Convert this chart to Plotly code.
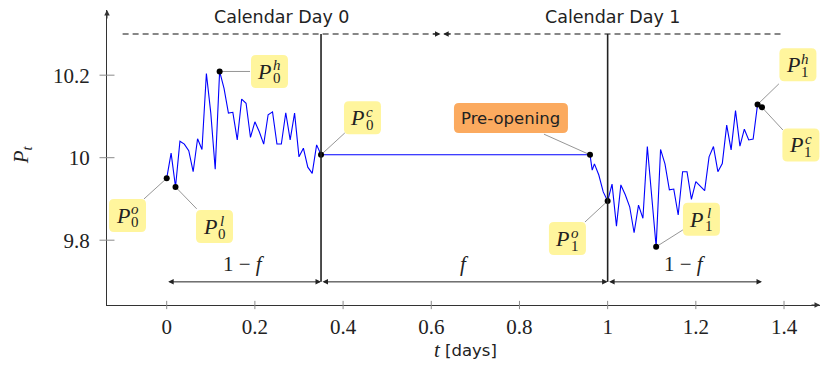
import numpy as np
import plotly.graph_objects as go

# ---- data -------------------------------------------------------------
# Trading day 0: prices sampled every 0.01 day from the open (t=0) to the close
day0_t = np.round(np.linspace(0.0, 0.35, 36), 2)
day0_p = [9.950, 10.011, 9.929, 10.040, 10.033, 10.017, 9.966, 10.046, 10.020,
          10.204, 10.108, 9.972, 10.209, 10.168, 10.108, 10.110, 10.043, 10.142,
          10.132, 10.049, 10.087, 10.063, 10.033, 10.104, 10.111, 10.033, 10.033,
          10.109, 10.043, 10.108, 10.002, 10.023, 9.977, 9.962, 10.031, 10.007]

# Pre-opening auction phase before day 1
pre_t = [0.96, 0.965, 0.97, 0.98, 0.99]
pre_p = [10.007, 9.970, 9.985, 9.958, 9.917]

# Trading day 1: open at t=1 up to the close
day1_t = np.round(np.linspace(1.0, 1.35, 36), 2)
day1_p = [9.895, 9.936, 9.834, 9.934, 9.910, 9.881, 9.818, 9.885, 9.853, 10.027,
          9.902, 9.784, 10.020, 9.985, 9.922, 9.924, 9.861, 9.966, 9.966, 9.899,
          9.942, 9.930, 9.920, 10.002, 10.027, 9.966, 9.986, 10.079, 10.019, 10.114,
          10.028, 10.069, 10.043, 10.045, 10.129, 10.122]

x_ticks = [0, 0.2, 0.4, 0.6, 0.8, 1.0, 1.2, 1.4]
x_tick_text = ["0", "0.2", "0.4", "0.6", "0.8", "1", "1.2", "1.4"]
y_ticks = [9.8, 10.0, 10.2]
y_tick_text = ["9.8", "10", "10.2"]

# session boundaries (fraction f of the day is closed)
close0_t = day0_t[-1]
open1_t = day1_t[0]
day_split = 0.624
cal_left, cal_right = -0.1, 1.4
span_y = 9.699
band_top = 10.30

# ---- styling ----------------------------------------------------------
SERIF = "Liberation Serif"
SANS = "DejaVu Sans"
INK = "#222222"
YELLOW = "#FFF59D"
ORANGE = "#FBAA5F"

X_RANGE = [-0.1354, 1.4816]
Y_RANGE = [9.6429, 10.358]

fig = go.Figure()

# price path
px_all = list(day0_t) + list(pre_t) + list(day1_t)
py_all = list(day0_p) + list(pre_p) + list(day1_p)
fig.add_trace(go.Scatter(x=px_all, y=py_all, mode="lines",
                         line=dict(color="#0000FF", width=1.1),
                         hoverinfo="skip", showlegend=False))

# key points of each session
d0 = np.array(day0_p)
d1 = np.array(day1_p)
keys = {
    "P0o": (day0_t[0], d0[0]),
    "P0l": (day0_t[d0.argmin()], d0.min()),
    "P0h": (day0_t[d0.argmax()], d0.max()),
    "P0c": (day0_t[-1], d0[-1]),
    "pre": (pre_t[0], pre_p[0]),
    "P1o": (day1_t[0], d1[0]),
    "P1l": (day1_t[d1.argmin()], d1.min()),
    "P1h": (day1_t[d1.argmax()], d1.max()),
    "P1c": (day1_t[-1], d1[-1]),
}

# label placement: box centre and connector end, in axis units
label_layout = {
    "P0o": dict(box=(-0.0889, 9.860), tip=(-0.0515, 9.900), sub="0", sup="o"),
    "P0l": dict(box=(0.1084, 9.833), tip=(0.068, 9.876), sub="0", sup="l"),
    "P0h": dict(box=(0.2331, 10.209), tip=(0.189, 10.209), sub="0", sup="h"),
    "P0c": dict(box=(0.4440, 10.097), tip=(0.404, 10.060), sub="0", sup="c"),
    "pre": dict(box=(0.7807, 10.096), tip=(0.8556, 10.057), text="Pre-opening"),
    "P1o": dict(box=(0.9088, 9.804), tip=(0.9485, 9.844), sub="1", sup="o"),
    "P1l": dict(box=(1.2127, 9.851), tip=(1.1707, 9.825), sub="1", sup="l"),
    "P1h": dict(box=(1.4315, 10.225), tip=(1.3884, 10.179), sub="1", sup="h"),
    "P1c": dict(box=(1.4383, 10.031), tip=(1.3976, 10.067), sub="1", sup="c"),
}

# connectors
cx, cy = [], []
for k, lay in label_layout.items():
    px, py = keys[k]
    cx += [px, lay["tip"][0], None]
    cy += [py, lay["tip"][1], None]
fig.add_trace(go.Scatter(x=cx, y=cy, mode="lines",
                         line=dict(color="#8a8a8a", width=0.9),
                         hoverinfo="skip", showlegend=False))

# markers on the key points
fig.add_trace(go.Scatter(x=[v[0] for v in keys.values()],
                         y=[v[1] for v in keys.values()],
                         mode="markers", marker=dict(color="black", size=6),
                         hoverinfo="skip", showlegend=False))

# calendar-day dashed bands
fig.add_trace(go.Scatter(x=[cal_left, day_split - 0.006], y=[band_top, band_top],
                         mode="lines", line=dict(color="#111111", width=1.1, dash="6px,4px"),
                         hoverinfo="skip", showlegend=False))
fig.add_trace(go.Scatter(x=[day_split + 0.006, cal_right], y=[band_top, band_top],
                         mode="lines", line=dict(color="#111111", width=1.1, dash="6px,4px"),
                         hoverinfo="skip", showlegend=False))

shapes = []
annotations = []

# session separators
for xv in (close0_t, open1_t):
    shapes.append(dict(type="line", xref="x", yref="y", x0=xv, x1=xv,
                       y0=span_y, y1=band_top, line=dict(color=INK, width=1.6)))

# tick marks crossing the axes
for v in x_ticks:
    shapes.append(dict(type="line", xref="x", yref="paper", x0=v, x1=v,
                       y0=-0.014, y1=0.014, line=dict(color="#8c8c8c", width=1)))
for v in y_ticks:
    shapes.append(dict(type="line", xref="paper", yref="y", x0=-0.0105, x1=0.0105,
                       y0=v, y1=v, line=dict(color="#8c8c8c", width=1)))


def rounded_box(w, h, r):
    a, b = w / 2, h / 2
    return (f"M {-a + r},{-b} L {a - r},{-b} Q {a},{-b} {a},{-b + r} "
            f"L {a},{b - r} Q {a},{b} {a - r},{b} L {-a + r},{b} "
            f"Q {-a},{b} {-a},{b - r} L {-a},{-b + r} Q {-a},{-b} {-a + r},{-b} Z")


for k, lay in label_layout.items():
    bx, by = lay["box"]
    if "text" in lay:
        shapes.append(dict(type="path", xref="x", yref="y", xsizemode="pixel",
                           ysizemode="pixel", xanchor=bx, yanchor=by,
                           path=rounded_box(114, 30, 5), fillcolor=ORANGE,
                           line=dict(width=0), layer="above"))
        annotations.append(dict(x=bx, y=by, xref="x", yref="y", text=lay["text"],
                                showarrow=False, font=dict(family=SANS, size=16.5, color=INK)))
        continue
    shapes.append(dict(type="path", xref="x", yref="y", xsizemode="pixel",
                       ysizemode="pixel", xanchor=bx, yanchor=by,
                       path=rounded_box(37, 33, 5), fillcolor=YELLOW,
                       line=dict(width=0), layer="above"))
    annotations.append(dict(x=bx, y=by, xref="x", yref="y", text="<i>P</i>",
                            xshift=-5, yshift=0, showarrow=False,
                            font=dict(family=SERIF, size=22, color=INK)))
    annotations.append(dict(x=bx, y=by, xref="x", yref="y", text=f"<i>{lay['sup']}</i>",
                            xshift=7.5, yshift=6, showarrow=False,
                            font=dict(family=SERIF, size=15, color=INK)))
    annotations.append(dict(x=bx, y=by, xref="x", yref="y", text=lay["sub"],
                            xshift=7.5, yshift=-7, showarrow=False,
                            font=dict(family=SERIF, size=15, color=INK)))

# duration arrows below the path
spans = [(day0_t[0], close0_t, "1 − <i>f</i>"),
         (close0_t, open1_t, "<i>f</i>"),
         (open1_t, day1_t[-1], "1 − <i>f</i>")]
for a, b, lab in spans:
    annotations.append(dict(x=b, y=span_y, ax=a, ay=span_y, xref="x", yref="y",
                            axref="x", ayref="y", text="", showarrow=True,
                            arrowhead=2, arrowside="end+start", arrowsize=1.1,
                            arrowwidth=1, arrowcolor=INK, standoff=0, startstandoff=0))
    annotations.append(dict(x=(a + b) / 2, y=9.742, xref="x", yref="y", text=lab,
                            showarrow=False, font=dict(family=SERIF, size=21, color=INK)))

# arrowheads meeting at the calendar-day boundary
annotations.append(dict(x=day_split - 0.003, y=band_top, xref="x", yref="y",
                        ax=-9, ay=0, text="", showarrow=True, arrowhead=2,
                        arrowsize=1.1, arrowwidth=1, arrowcolor=INK))
annotations.append(dict(x=day_split + 0.003, y=band_top, xref="x", yref="y",
                        ax=9, ay=0, text="", showarrow=True, arrowhead=2,
                        arrowsize=1.1, arrowwidth=1, arrowcolor=INK))

# calendar-day headings
for xc, lab in (((cal_left + day_split) / 2, "Calendar Day 0"),
                ((day_split + cal_right) / 2, "Calendar Day 1")):
    annotations.append(dict(x=xc, y=10.341, xref="x", yref="y", text=lab,
                            showarrow=False, font=dict(family=SANS, size=17.5, color=INK)))

# axis arrowheads
annotations.append(dict(x=1.0, y=0, xref="paper", yref="paper", ax=-10, ay=0,
                        text="", showarrow=True, arrowhead=2, arrowsize=1.1,
                        arrowwidth=1, arrowcolor="#333333"))
annotations.append(dict(x=0, y=1.0, xref="paper", yref="paper", ax=0, ay=10,
                        text="", showarrow=True, arrowhead=2, arrowsize=1.1,
                        arrowwidth=1, arrowcolor="#333333"))

# axis titles: italic variable in serif, unit in sans
annotations.append(dict(x=0.5, y=-0.153, xref="paper", yref="paper",
                        xanchor="center", yanchor="middle", xshift=-26,
                        text="<i>t</i>", showarrow=False,
                        font=dict(family=SERIF, size=21, color=INK)))
annotations.append(dict(x=0.5, y=-0.153, xref="paper", yref="paper",
                        xanchor="center", yanchor="middle", xshift=7,
                        text="[days]", showarrow=False,
                        font=dict(family=SANS, size=16.5, color=INK)))
annotations.append(dict(x=-0.119, y=0.508, xref="paper", yref="paper",
                        xanchor="center", yanchor="middle",
                        text="<i>P</i><sub><i>t</i></sub>", textangle=-90,
                        showarrow=False, font=dict(family=SERIF, size=21, color=INK)))

fig.update_layout(
    width=825, height=367,
    margin=dict(l=107, r=5, t=10, b=62),
    paper_bgcolor="white", plot_bgcolor="white",
    shapes=shapes, annotations=annotations, showlegend=False,
    xaxis=dict(range=X_RANGE, tickvals=x_ticks, ticktext=x_tick_text,
               ticks="", showgrid=False, zeroline=False, showline=True,
               linecolor="#333333", linewidth=1.2, ticklabelstandoff=3,
               tickfont=dict(family=SERIF, size=21, color=INK)),
    yaxis=dict(range=Y_RANGE, tickvals=y_ticks, ticktext=y_tick_text,
               ticks="", showgrid=False, zeroline=False, showline=True,
               linecolor="#333333", linewidth=1.2, ticklabelstandoff=12,
               tickfont=dict(family=SERIF, size=21, color=INK)),
)

fig.write_html("out.html")
